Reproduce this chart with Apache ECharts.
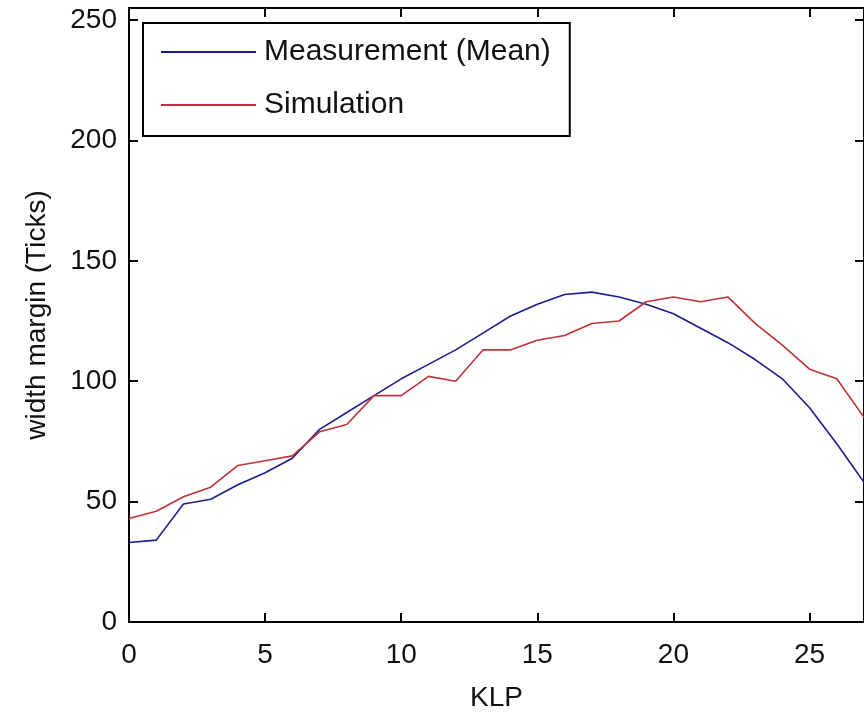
<!DOCTYPE html>
<html>
<head>
<meta charset="utf-8">
<script src="https://cdn.jsdelivr.net/npm/echarts@6/dist/echarts.min.js"></script>
<style>
  html, body { margin: 0; padding: 0; background: #fff; }
  #chart { width: 864px; height: 713px; }
</style>
</head>
<body>
<div id="chart"></div>
<script>
// KLP positions (x) and the two width-margin curves
const klp = [0,1,2,3,4,5,6,7,8,9,10,11,12,13,14,15,16,17,18,19,20,21,22,23,24,25,26,27];
const measurementMean = [33,34,49,51,57,62,68,80,87,94,101,107,113,120,127,132,136,137,135,132,128,122,116,109,101,89,74,58];
const simulation = [43,46,52,56,65,67,69,79,82,94,94,102,100,113,113,117,119,124,125,133,135,133,135,124,115,105,101,85];
const seriesNames = ['Measurement (Mean)', 'Simulation'];
const yTicks = [0, 50, 100, 150, 200, 250];

const pairs = (xs, ys) => xs.map((x, i) => [x, ys[i]]);

const FONT = '"Liberation Sans", Arial, sans-serif';
const axisBase = {
  axisLine: { show: true, onZero: false, lineStyle: { color: '#000', width: 2 } },
  axisTick: { show: true, inside: true, length: 9, lineStyle: { color: '#000', width: 2 } },
  splitLine: { show: false }
};

const chart = echarts.init(document.getElementById('chart'), null, { renderer: 'canvas' });
chart.setOption({
  backgroundColor: '#fff',
  animation: false,
  grid: { left: 129, right: 0, top: 8, bottom: 91, containLabel: false, outerBoundsMode: 'none' },
  legend: {
    orient: 'vertical',
    left: 143,
    top: 23,
    data: seriesNames,
    backgroundColor: '#fff',
    borderColor: '#000',
    borderWidth: 2,
    borderRadius: 0,
    padding: [14, 19, 16, 17],
    itemGap: 23,
    itemWidth: 95,
    itemHeight: 20,
    itemStyle: { opacity: 0 },
    textStyle: { fontFamily: FONT, fontSize: 30, color: '#111', lineHeight: 30, padding: [0, 0, 0, 3] }
  },
  xAxis: [
    Object.assign({}, axisBase, {
      type: 'value', min: 0, max: 27, interval: 5,
      name: 'KLP', nameLocation: 'middle', nameGap: 62,
      nameTextStyle: { fontFamily: FONT, fontSize: 28, color: '#111' },
      axisLabel: { fontFamily: FONT, fontSize: 28, color: '#111', margin: 19, showMaxLabel: false }
    }),
    Object.assign({}, axisBase, {
      type: 'value', min: 0, max: 27, interval: 5, position: 'top',
      axisLabel: { show: false }
    })
  ],
  yAxis: [
    Object.assign({}, axisBase, {
      type: 'value', min: 0, max: 255, interval: 50,
      name: 'width margin (Ticks)', nameLocation: 'middle', nameGap: 78, nameRotate: 90,
      nameTextStyle: { fontFamily: FONT, fontSize: 28, color: '#111' },
      axisLabel: {
        fontFamily: FONT, fontSize: 28, color: '#111', margin: 12, showMaxLabel: false,
        formatter: v => (yTicks.indexOf(v) >= 0 ? String(v) : '')
      }
    }),
    Object.assign({}, axisBase, {
      type: 'value', min: 0, max: 255, interval: 50, position: 'right',
      axisLabel: { show: false }
    })
  ],
  series: [
    {
      name: seriesNames[0], type: 'line', symbol: 'none',
      data: pairs(klp, measurementMean),
      lineStyle: { color: '#1c1c8a', width: 1.6 }, itemStyle: { color: '#1c1c8a' }
    },
    {
      name: seriesNames[1], type: 'line', symbol: 'none',
      data: pairs(klp, simulation),
      lineStyle: { color: '#c0323a', width: 1.6 }, itemStyle: { color: '#c0323a' }
    }
  ]
});
</script>
</body>
</html>
